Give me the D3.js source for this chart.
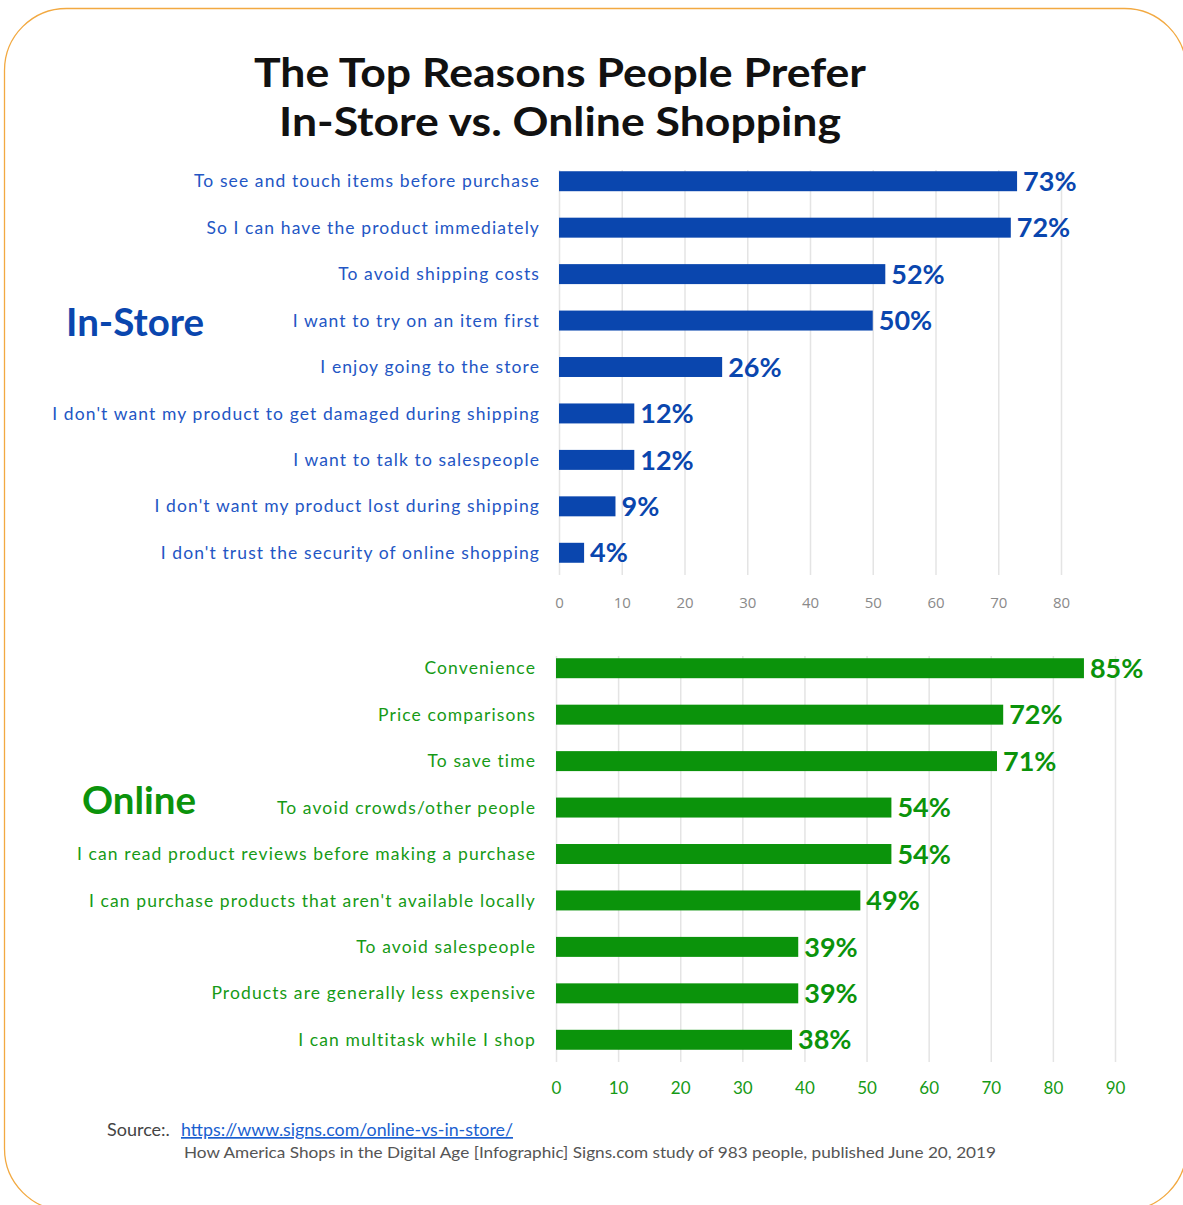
<!DOCTYPE html>
<html>
<head>
<meta charset="utf-8">
<script src="https://cdn.jsdelivr.net/npm/d3@7"></script>
<style>
  body { margin: 0; background: #fff; }
  svg { display: block; font-family: Lato, "Open Sans", sans-serif; }
</style>
</head>
<body>
<svg width="1183" height="1205"></svg>
<script>
// In-store reasons (top panel)
var storeReasons = [
  "To see and touch items before purchase",
  "So I can have the product immediately",
  "To avoid shipping costs",
  "I want to try on an item first",
  "I enjoy going to the store",
  "I don't want my product to get damaged during shipping",
  "I want to talk to salespeople",
  "I don't want my product lost during shipping",
  "I don't trust the security of online shopping"
];
var storeValues = [73, 72, 52, 50, 26, 12, 12, 9, 4];
var storeTicks = [0, 10, 20, 30, 40, 50, 60, 70, 80];

// Online reasons (bottom panel)
var onlineReasons = [
  "Convenience",
  "Price comparisons",
  "To save time",
  "To avoid crowds/other people",
  "I can read product reviews before making a purchase",
  "I can purchase products that aren't available locally",
  "To avoid salespeople",
  "Products are generally less expensive",
  "I can multitask while I shop"
];
var onlineValues = [85, 72, 71, 54, 54, 49, 39, 39, 38];
var onlineTicks = [0, 10, 20, 30, 40, 50, 60, 70, 80, 90];

var svg = d3.select('svg');

// rounded orange frame
svg.append('rect')
   .attr('x', 4.5).attr('y', 8.5)
   .attr('width', 1182).attr('height', 1202)
   .attr('rx', 62).attr('ry', 62)
   .style('fill', 'none')
   .style('stroke', '#f2a941')
   .style('stroke-width', 1.3);

// title
var title = svg.append('text')
   .attr('text-anchor', 'middle')
   .style('font-weight', 700)
   .style('font-size', '40px')
   .style('fill', '#111');
title.append('tspan').attr('x', 560).attr('y', 87).text('The Top Reasons People Prefer')
   .attr('textLength', 612).attr('lengthAdjust', 'spacingAndGlyphs');
title.append('tspan').attr('x', 560).attr('y', 136).text('In-Store vs. Online Shopping')
   .attr('textLength', 562).attr('lengthAdjust', 'spacingAndGlyphs');

function panel(opts) {
  var g = svg.append('g');

  var x = d3.scaleLinear().domain([0, opts.max]).range([opts.x0, opts.x1]);
  var y = d3.scaleBand().domain(opts.reasons)
            .range([opts.y0, opts.y1])
            .paddingInner(0.57).paddingOuter(0.285);

  // gridlines
  g.append('g')
   .attr('transform', 'translate(0,' + opts.gridBottom + ')')
   .call(d3.axisBottom(x).tickValues(opts.ticks).tickSize(-(opts.gridBottom - opts.gridTop)).tickFormat(''))
   .call(function(a) {
     a.select('.domain').remove();
     a.selectAll('line').style('stroke', '#e4e4e4').style('stroke-width', 1.5);
   });

  // bars
  g.selectAll('rect.bar')
   .data(opts.values)
   .enter()
   .append('rect')
   .attr('class', 'bar')
   .attr('x', x(0))
   .attr('y', function(d, i) { return y(opts.reasons[i]); })
   .attr('width', function(d) { return x(d) - x(0); })
   .attr('height', y.bandwidth())
   .style('fill', opts.barColor);

  // category labels
  g.selectAll('text.cat')
   .data(opts.reasons)
   .enter()
   .append('text')
   .attr('class', 'cat')
   .attr('x', opts.labelX)
   .attr('y', function(d) { return y(d) + y.bandwidth() / 2; })
   .attr('dy', '0.35em')
   .attr('text-anchor', 'end')
   .style('font-size', '17.5px')
   .style('letter-spacing', '1.1px')
   .style('fill', opts.labelColor)
   .text(function(d) { return d; });

  // value labels
  g.selectAll('text.val')
   .data(opts.values)
   .enter()
   .append('text')
   .attr('class', 'val')
   .attr('x', function(d) { return x(d) + 6; })
   .attr('y', function(d, i) { return y(opts.reasons[i]) + y.bandwidth() / 2; })
   .attr('dy', '0.36em')
   .style('font-size', '27px')
   .style('font-weight', 700)
   .style('fill', opts.barColor)
   .text(function(d) { return d + '%'; });

  // x axis
  g.append('g')
   .attr('transform', 'translate(0,' + opts.axisY + ')')
   .call(d3.axisBottom(x).tickValues(opts.ticks).tickSize(0).tickPadding(0))
   .call(function(a) {
     a.select('.domain').remove();
     a.selectAll('text')
      .style('font-family', opts.tickFont)
      .style('font-size', opts.tickSize)
      .style('fill', opts.tickColor);
   });

  // panel name
  svg.append('text')
     .attr('x', opts.nameX).attr('y', opts.nameY)
     .style('font-size', '38.5px')
     .style('font-weight', 700)
     .style('fill', opts.barColor)
     .text(opts.name);
}

panel({
  name: 'In-Store', nameX: 66, nameY: 336,
  reasons: storeReasons, values: storeValues, ticks: storeTicks, max: 80,
  x0: 559, x1: 1061, y0: 158, y1: 576, gridTop: 170, gridBottom: 575,
  labelX: 540, axisY: 597,
  barColor: '#0a46ae', labelColor: '#2356c4',
  tickColor: '#8a8a8a', tickSize: '15px', tickFont: '"Open Sans", sans-serif'
});

panel({
  name: 'Online', nameX: 82, nameY: 814,
  reasons: onlineReasons, values: onlineValues, ticks: onlineTicks, max: 90,
  x0: 556, x1: 1115, y0: 645, y1: 1063, gridTop: 656, gridBottom: 1062,
  labelX: 536, axisY: 1082,
  barColor: '#0b930b', labelColor: '#169a16',
  tickColor: '#169a16', tickSize: '17px', tickFont: 'Lato, sans-serif'
});

// source
svg.append('text')
   .attr('x', 107).attr('y', 1136)
   .style('font-size', '18px')
   .style('fill', '#444')
   .text('Source:.');
svg.append('text')
   .attr('x', 181).attr('y', 1136)
   .style('font-size', '17px')
   .style('fill', '#1a5fd0')
   .style('text-decoration', 'underline')
   .attr('textLength', 332).attr('lengthAdjust', 'spacingAndGlyphs')
   .text('https://www.signs.com/online-vs-in-store/');
svg.append('text')
   .attr('x', 184).attr('y', 1158)
   .style('font-size', '15px')
   .style('fill', '#555')
   .attr('textLength', 812).attr('lengthAdjust', 'spacingAndGlyphs')
   .text('How America Shops in the Digital Age [Infographic] Signs.com study of 983 people, published June 20, 2019');
</script>
</body>
</html>
